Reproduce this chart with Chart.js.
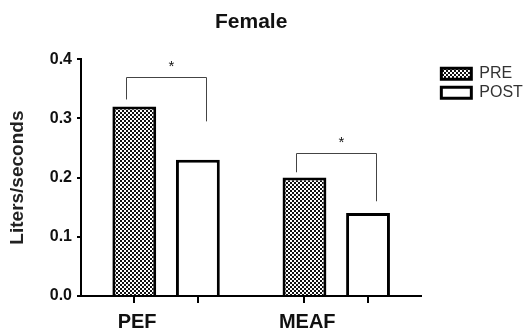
<!DOCTYPE html>
<html>
<head>
<meta charset="utf-8">
<script src="https://cdn.jsdelivr.net/npm/chart.js@4.4.1/dist/chart.umd.min.js"></script>
<style>
  html, body { margin: 0; padding: 0; background: #fff; }
</style>
</head>
<body>
<canvas id="chart" width="528" height="329"></canvas>
<script>
const categories = ["PEF", "MEAF"];
const preValues = [0.32, 0.20];
const postValues = [0.23, 0.14];
const yTicks = [0.0, 0.1, 0.2, 0.3, 0.4];

// significance brackets: height of the bar, where the left / right legs stop, label
const sigTop = [0.37, 0.241];
const sigLeftEnd = [0.332, 0.209];
const sigRightEnd = [0.295, 0.160];
const sigLabel = ["*", "*"];

const FONT = "'Liberation Sans', Arial, Helvetica, sans-serif";
const canvas = document.getElementById("chart");

// small black/white checker used for the PRE bars
const makeChecker = () => {
  const c = document.createElement("canvas");
  c.width = 4; c.height = 4;
  const g = c.getContext("2d");
  g.fillStyle = "#fff"; g.fillRect(0, 0, 4, 4);
  g.fillStyle = "#111"; g.fillRect(0, 0, 2, 2); g.fillRect(2, 2, 2, 2);
  return canvas.getContext("2d").createPattern(c, "repeat");
};

// tick marks under every bar + significance brackets
const sigPlugin = {
  id: "sig",
  afterDatasetsDraw(chart) {
    const {ctx, scales: {y}} = chart;
    const pre = chart.getDatasetMeta(0).data;
    const post = chart.getDatasetMeta(1).data;
    ctx.save();
    ctx.strokeStyle = "#000"; ctx.lineWidth = 2;
    [...pre, ...post].forEach(b => {
      ctx.beginPath(); ctx.moveTo(Math.round(b.x), y.bottom); ctx.lineTo(Math.round(b.x), y.bottom + 7); ctx.stroke();
    });
    ctx.strokeStyle = "#444"; ctx.lineWidth = 1;
    ctx.fillStyle = "#111"; ctx.font = "15px " + FONT; ctx.textAlign = "center"; ctx.textBaseline = "alphabetic";
    categories.forEach((_, i) => {
      const x1 = Math.round(pre[i].x - 8) + 0.5, x2 = Math.round(post[i].x + 8) + 0.5;
      const yt = Math.round(y.getPixelForValue(sigTop[i])) + 0.5;
      ctx.beginPath();
      ctx.moveTo(x1, y.getPixelForValue(sigLeftEnd[i]));
      ctx.lineTo(x1, yt); ctx.lineTo(x2, yt);
      ctx.lineTo(x2, y.getPixelForValue(sigRightEnd[i]));
      ctx.stroke();
      ctx.fillText(sigLabel[i], (x1 + x2) / 2 + 5, yt - 7);
    });
    ctx.restore();
  }
};

new Chart(canvas, {
  type: "bar",
  data: {
    labels: categories,
    datasets: [
      {label: "PRE", data: preValues, backgroundColor: makeChecker(), borderColor: "#000", borderWidth: 3},
      {label: "POST", data: postValues, backgroundColor: "#fff", borderColor: "#000", borderWidth: 3},
    ],
  },
  options: {
    responsive: false, animation: false,
    categoryPercentage: 0.747, barPercentage: 0.69,
    layout: {padding: {left: 0, right: 2, top: 0, bottom: 0}},
    plugins: {
      tooltip: {enabled: false},
      title: {display: true, fullSize: false, text: "Female", color: "#111", font: {family: FONT, size: 21, weight: "bold"}, padding: {top: 10, bottom: 24}},
      legend: {
        position: "right", align: "start", fullSize: false,
        title: {display: true, text: "", font: {size: 3}, padding: 0},
        labels: {boxWidth: 30, boxHeight: 11, color: "#333", font: {family: FONT, size: 16}, padding: 3},
      },
    },
    scales: {
      x: {
        grid: {display: false, drawTicks: false},
        border: {color: "#000", width: 2},
        ticks: {color: "#111", font: {family: FONT, size: 20, weight: "bold"}, padding: 14, labelOffset: -29},
        afterFit: (s) => { s.height = 33; },
      },
      y: {
        min: 0, max: 0.4,
        afterBuildTicks: (s) => { s.ticks = yTicks.map(v => ({value: v})); },
        grid: {drawOnChartArea: false, drawTicks: true, tickLength: 4, color: "#000", lineWidth: 2},
        border: {color: "#000", width: 2},
        ticks: {color: "#111", padding: 5, font: {family: FONT, size: 16, weight: "bold"}, callback: (v) => v.toFixed(1)},
        title: {display: true, text: "Liters/seconds", color: "#222", font: {family: FONT, size: 19, weight: "bold"}, padding: {top: 6, bottom: 0}},
        afterFit: (s) => { s.width = 81; },
      },
      // empty spacer between the plot and the legend
      gap: {
        type: "linear", position: "right", display: true,
        grid: {display: false}, border: {display: false}, ticks: {display: false},
        afterFit: (s) => { s.width = 17; },
      },
    },
  },
  plugins: [sigPlugin],
});
</script>
</body>
</html>
